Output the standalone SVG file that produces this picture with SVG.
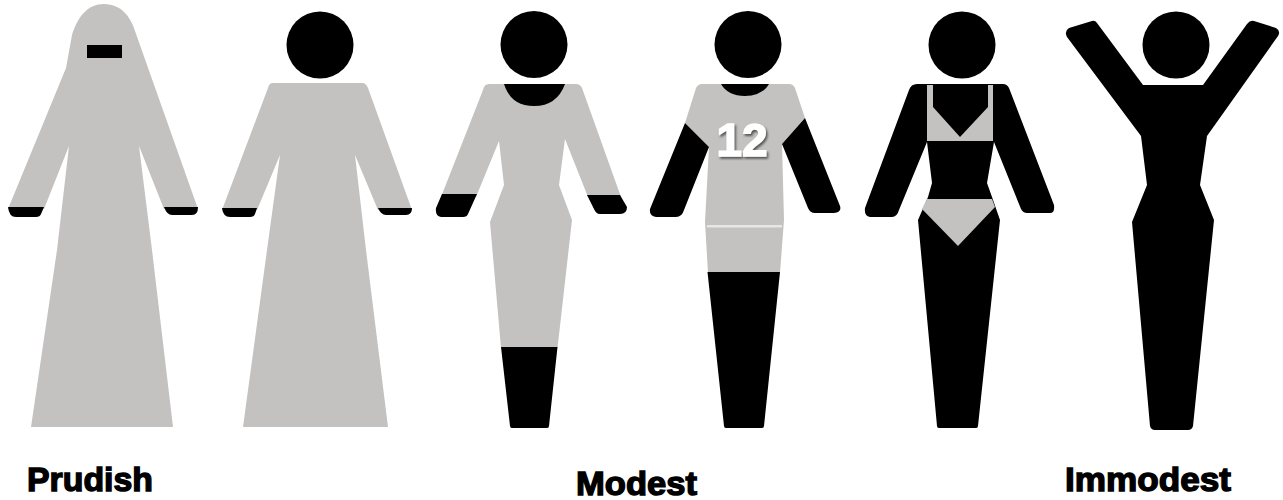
<svg xmlns="http://www.w3.org/2000/svg" width="1283" height="500" viewBox="0 0 1283 500">
<defs><filter id="blur" x="-5%" y="-5%" width="110%" height="110%"><feGaussianBlur stdDeviation="0.55"/></filter><filter id="ts" x="-20%" y="-20%" width="140%" height="140%"><feDropShadow dx="1.5" dy="2" stdDeviation="1" flood-color="#555"/></filter></defs>
<style>.g{fill:#c3c2c0}.k{fill:#000}.l{font:700 34px "Liberation Sans",Arial,sans-serif;fill:#000;stroke:#000;stroke-width:1.4}</style>
<rect width="1283" height="500" fill="#fff"/>
<g id="fig1" filter="url(#blur)"><path class="g" d="M104 4C122 4 131 18 135 31L198 209L164 209L139 146L152 250L173 427H31L57 250L69 146L44 209L8 209L66 68L72 35C78 16 88 4 104 4Z"/><path class="k" d="M8 207H44L41 214Q40 217 36 217H16Q9 217 8 207ZM164 207H198Q198 215 192 215H172Q167 215 164 207Z"/><rect class="k" x="87" y="45" width="35" height="13"/></g>
<g id="fig2" filter="url(#blur)"><circle cx="320" cy="45" r="33.5"/><path class="g" d="M273 83H362Q366 83 368 88L412 210L378 210L355 155L366 250L388 427H243L267 250L280 155L257 210L222 210L268 88Q269 83 273 83Z"/><path class="k" d="M222 208H257L255 214Q254 217 250 217H230Q223 217 222 208ZM378 208H412Q412 215 406 215H386Q381 215 378 208Z"/></g>
<g id="fig3" filter="url(#blur)"><circle cx="534" cy="44.5" r="33.5"/><path class="g" d="M489 84H576Q580 84 582 88L621 197L588 197L565 139L559 185L572 220L557.500 348H501L490 222L504 185L499 141L476 197L441 197L483 90Q484 84 489 84Z"/><path class="k" d="M504 84H565Q557 106 534 106Q511 106 504 84ZM442 194H477L468 214Q467 217 463 217H441Q435 216 436 208ZM587 195H620L627 207Q627 214 620 214H600Q596 214 594 209Z"/><path class="k" d="M501 347H557.500L549 426Q549 428 547 428H512Q510 428 510 426Z"/></g>
<g id="fig4" filter="url(#blur)"><circle cx="748" cy="44.500" r="33.500"/><path class="g" d="M702 84H789Q793 84 795 88L805 118L782 144L784 220L780 273H708L705 222L709 147L685 123L696 88Q698 84 702 84Z"/><path class="k" d="M721 84H769Q762 96 745 96Q728 96 721 84ZM685 123L709 147L684 210Q682 217 676 217H656Q649 216 650 209ZM805 118L782 144L808 208Q810 213 815 213H834Q842 212 840 206ZM707.500 272H780L764 426Q764 428 762 428H726Q724 428 724 426Z"/><rect x="707" y="225" width="75" height="2.500" fill="#e7e6e4"/><text x="742" y="156" text-anchor="middle" font-family="Liberation Sans,Arial,sans-serif" font-weight="700" font-size="46" fill="#fff" stroke="#fff" stroke-width="1.500" filter="url(#ts)">12</text></g>
<g id="fig5" filter="url(#blur)"><circle cx="962" cy="45" r="33.500"/><path class="k" d="M917 84H1003Q1007 84 1009 88L1054 205Q1055 213 1050 213H1027Q1023 213 1021 209L994 142L987 183L992 197L1000 220L978 426Q978 428 976 428H939Q937 428 937 426L918 220L928 197L932 183L927 142L899 210Q897 217 892 217H870Q864 216 865 208L909 90Q911 84 917 84Z"/><path class="g" d="M927 85H933V107L960 137L988 107V85H993V141H927ZM927 199H992L995 207L958 246L922 209Z"/></g>
<g id="fig6" filter="url(#blur)"><circle cx="1176" cy="45" r="33.500"/><path class="k" d="M1067 37Q1064 31 1069 28L1092 21Q1095 20 1097 23L1143 85H1203L1247 24Q1250 20 1254 21L1276 28Q1281 31 1278 36L1207 136L1200 185L1214 220L1193 426Q1192 430 1188 430H1155Q1151 430 1150 426L1132 222L1147 185L1141 136Z"/></g>
<text class="l" x="27" y="491" textLength="126" lengthAdjust="spacingAndGlyphs">Prudish</text><text class="l" x="576" y="495" textLength="121" lengthAdjust="spacingAndGlyphs">Modest</text><text class="l" x="1065" y="491" textLength="166" lengthAdjust="spacingAndGlyphs">Immodest</text>
</svg>
